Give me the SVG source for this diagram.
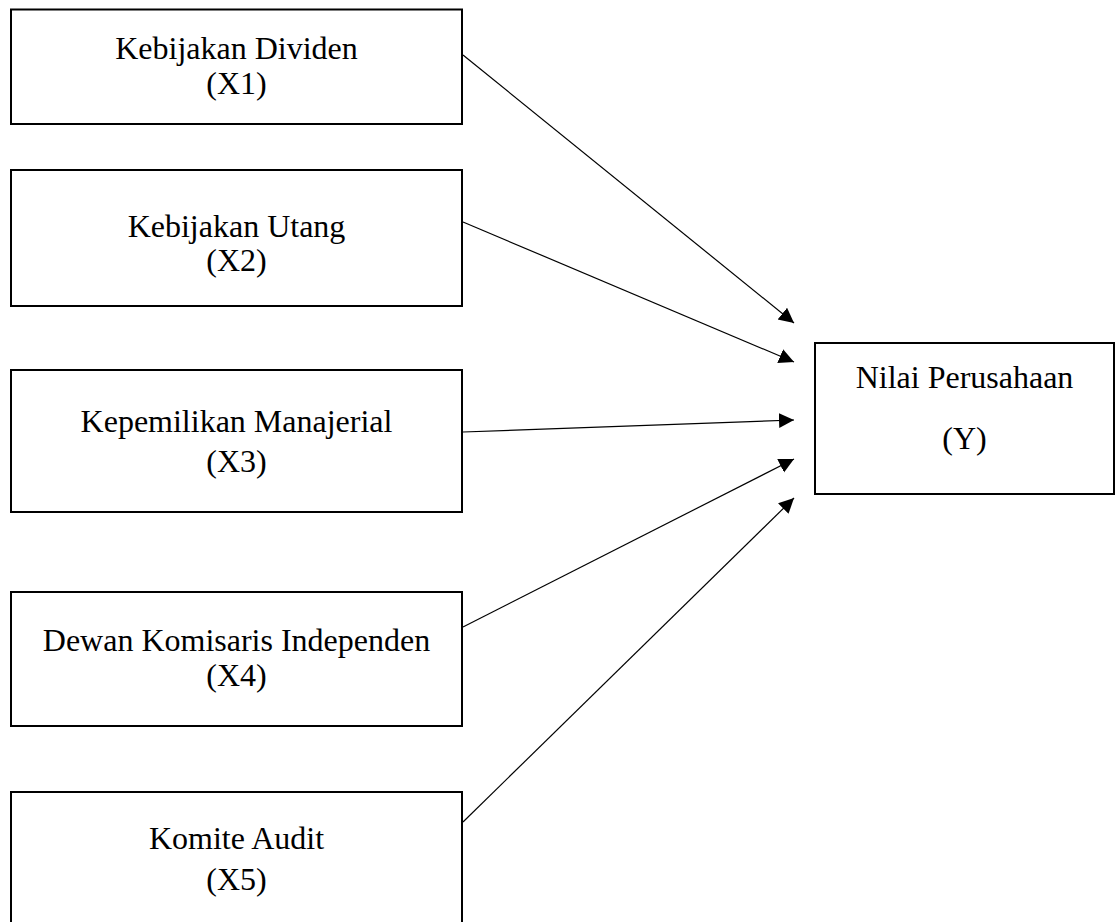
<svg xmlns="http://www.w3.org/2000/svg" width="1116" height="922" viewBox="0 0 1116 922">
  <style>
    .box { fill: #ffffff; stroke: #000000; stroke-width: 2; }
    .lbl { font-family: "Liberation Serif", "Times New Roman", serif; font-size: 32px; fill: #000000; text-anchor: middle; }
    .edge { stroke: #000000; stroke-width: 1.2; fill: none; marker-end: url(#arrow); }
  </style>
  <defs>
    <marker id="arrow" markerUnits="userSpaceOnUse" markerWidth="16" markerHeight="16" refX="15" refY="7.5" orient="auto">
      <path d="M0,0 L15,7.5 L0,15 Z" fill="#000000"/>
    </marker>
  </defs>
  <rect x="0" y="0" width="1116" height="922" fill="#ffffff"/>
  <g id="connectors">
    <line class="edge" x1="463" y1="55" x2="794" y2="323"/>
    <line class="edge" x1="463" y1="222" x2="794" y2="362"/>
    <line class="edge" x1="463" y1="432" x2="794" y2="420"/>
    <line class="edge" x1="463" y1="627" x2="794" y2="459"/>
    <line class="edge" x1="463" y1="822" x2="794" y2="498"/>
  </g>
  <g id="x1">
    <rect class="box" x="11" y="9.5" width="451" height="114.5"/>
    <text class="lbl" x="236.5" y="59">Kebijakan Dividen</text>
    <text class="lbl" x="236.5" y="94">(X1)</text>
  </g>
  <g id="x2">
    <rect class="box" x="11" y="170" width="451" height="136"/>
    <text class="lbl" x="236.5" y="237">Kebijakan Utang</text>
    <text class="lbl" x="236.5" y="271">(X2)</text>
  </g>
  <g id="x3">
    <rect class="box" x="11" y="370" width="451" height="142"/>
    <text class="lbl" x="236.5" y="432">Kepemilikan Manajerial</text>
    <text class="lbl" x="236.5" y="472">(X3)</text>
  </g>
  <g id="x4">
    <rect class="box" x="11" y="592" width="451" height="134"/>
    <text class="lbl" x="236.5" y="651">Dewan Komisaris Independen</text>
    <text class="lbl" x="236.5" y="686">(X4)</text>
  </g>
  <g id="x5">
    <rect class="box" x="11" y="792" width="451" height="140"/>
    <text class="lbl" x="236.5" y="849">Komite Audit</text>
    <text class="lbl" x="236.5" y="890">(X5)</text>
  </g>
  <g id="y">
    <rect class="box" x="815" y="343" width="299" height="151"/>
    <text class="lbl" x="964.5" y="388">Nilai Perusahaan</text>
    <text class="lbl" x="964.5" y="449">(Y)</text>
  </g>
</svg>
